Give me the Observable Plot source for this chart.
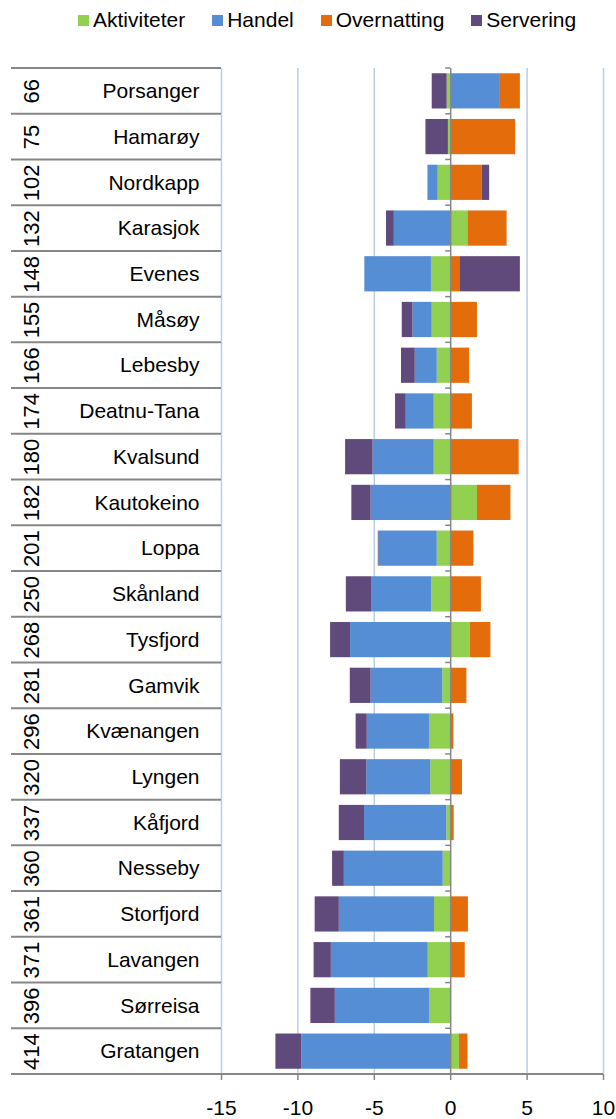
<!DOCTYPE html>
<html><head><meta charset="utf-8">
<script src="https://cdn.jsdelivr.net/npm/d3@7"></script>
<script src="https://cdn.jsdelivr.net/npm/@observablehq/plot@0.6"></script>
<style>
body{margin:0;background:#fff;font-family:"Liberation Sans",Arial,sans-serif;}
#legend{height:40px;display:flex;align-items:center;padding-left:78px;font-size:21px;color:#000;box-sizing:border-box;}
.item{display:flex;align-items:center;margin-right:27px}
.sw{width:11px;height:11px;margin-right:4px}
</style></head><body>
<div id="legend"></div>
<div id="chart"></div>
<script>
const seriesNames = ["Aktiviteter", "Handel", "Overnatting", "Servering"];
const seriesColors = ["#92D050", "#558ED5", "#E46C0A", "#604A7B"];
const names = ["Porsanger","Hamarøy","Nordkapp","Karasjok","Evenes","Måsøy","Lebesby","Deatnu-Tana","Kvalsund","Kautokeino","Loppa","Skånland","Tysfjord","Gamvik","Kvænangen","Lyngen","Kåfjord","Nesseby","Storfjord","Lavangen","Sørreisa","Gratangen"];
const ranks = [66,75,102,132,148,155,166,174,180,182,201,250,268,281,296,320,337,360,361,371,396,414];
const aktiviteter = [-0.23,-0.15,-0.82,1.13,-1.26,-1.21,-0.88,-1.08,-1.08,1.75,-0.88,-1.24,1.29,-0.52,-1.39,-1.31,-0.26,-0.49,-1.06,-1.47,-1.39,0.57];
const handel = [3.2,0,-0.67,-3.69,-4.36,-1.26,-1.44,-1.83,-4.0,-5.21,-3.81,-3.94,-6.55,-4.69,-4.07,-4.18,-5.38,-6.47,-6.23,-6.34,-6.16,-9.74];
const overnatting = [1.36,4.25,2.06,2.56,0.64,1.75,1.24,1.42,4.48,2.19,1.52,2.01,1.34,1.06,0.21,0.77,0.23,0,1.16,0.95,0,0.56];
const servering = [-0.98,-1.47,0.49,-0.51,3.92,-0.70,-0.90,-0.70,-1.80,-1.26,-0.05,-1.65,-1.31,-1.36,-0.73,-1.73,-1.65,-0.77,-1.58,-1.13,-1.60,-1.70];
const xTicks = [-15,-10,-5,0,5,10];
const gridTicks = [-15,-10,-5,5,10];

const seriesValues = [aktiviteter, handel, overnatting, servering];
const long = [];
names.forEach((n, i) => {
  seriesNames.forEach((s, j) => {
    long.push({name: n, series: s, value: seriesValues[j][i]});
  });
});
const rows = names.map((n, i) => ({name: n, rank: ranks[i]}));

// legend
const leg = document.getElementById("legend");
seriesNames.forEach((s, j) => {
  const it = document.createElement("div"); it.className = "item";
  const sw = document.createElement("div"); sw.className = "sw"; sw.style.background = seriesColors[j];
  const t = document.createElement("span"); t.textContent = s;
  it.appendChild(sw); it.appendChild(t); leg.appendChild(it);
});

const chart = Plot.plot({
  width: 616,
  height: 1079,
  marginTop: 28,
  marginBottom: 45,
  marginLeft: 221,
  marginRight: 13,
  style: {fontFamily: "'Liberation Sans', Arial, sans-serif", fontSize: "21px", color: "#000", background: "#fff", overflow: "visible"},
  x: {domain: [-15, 10]},
  y: {domain: names, paddingInner: 0.23, paddingOuter: 0.115, round: false},
  color: {domain: seriesNames, range: seriesColors},
  marks: [
    Plot.ruleX(gridTicks, {stroke: "#B9CDE5", strokeWidth: 1.5}),
    Plot.barX(long, Plot.stackX({x: "value", y: "name", fill: "series", order: seriesNames})),
    Plot.ruleX([0], {stroke: "#868686", strokeWidth: 1.5}),
    Plot.axisY({tickSize: 0, tickPadding: 22, fontSize: 21, fill: "#000", label: null}),
    Plot.text(rows, {y: "name", text: "rank", frameAnchor: "left", textAnchor: "middle", dx: -190, rotate: -90, fontSize: 22, fill: "#000"}),
    Plot.axisX({ticks: xTicks, tickSize: 6, tickPadding: 20, stroke: "#868686", strokeWidth: 1.5, fontSize: 21, fill: "#000", tickFormat: d => String(d), label: null})
  ]
});
document.getElementById("chart").appendChild(chart);

// table separators, axis baseline and zero-axis ticks, positioned from the plot's scales
const ys = chart.scale("y"), xs = chart.scale("x");
const step = ys.step, bw = ys.bandwidth;
const tops = names.map(n => ys.apply(n) - (step - bw) / 2);
tops.push(tops[tops.length - 1] + step);
const x0 = xs.apply(0), xL = xs.apply(-15), xR = xs.apply(10);
const svg = d3.select(chart);
const g = svg.append("g").attr("stroke", "#868686").attr("stroke-width", 2).attr("fill", "none");
tops.forEach((t, i) => {
  const last = i === tops.length - 1;
  g.append("line").attr("x1", 11).attr("x2", last ? xR : xL).attr("y1", t).attr("y2", t);
  g.append("line").attr("x1", x0 - 5).attr("x2", x0).attr("y1", t).attr("y2", t).attr("stroke-width", 1.5);
});
</script>
</body></html>
